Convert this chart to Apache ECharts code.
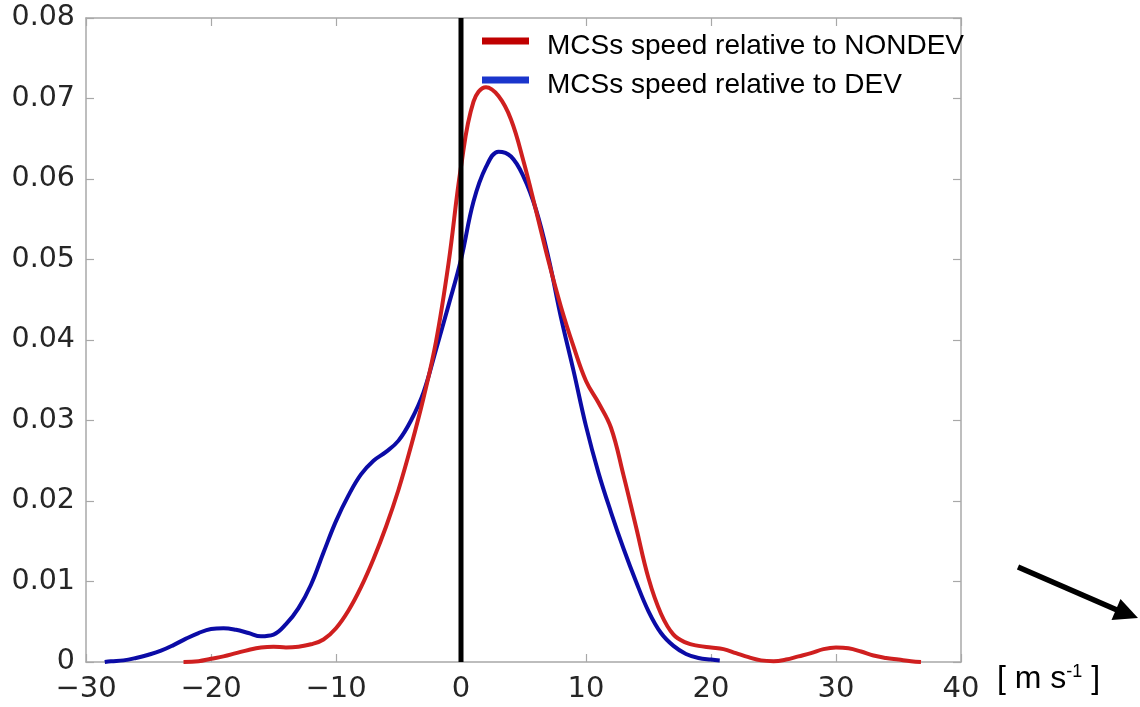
<!DOCTYPE html>
<html><head><meta charset="utf-8">
<script src="https://cdn.jsdelivr.net/npm/echarts@6/dist/echarts.min.js"></script>
<style>html,body{margin:0;padding:0;background:#fff}#c{width:1140px;height:707px}</style>
</head><body><div id="c"></div>
<script>
// ---- data ----
const seriesNames = ['MCSs speed relative to NONDEV', 'MCSs speed relative to DEV'];
const xMin = -30, xMax = 40, xStep = 10;
const yMin = 0, yMax = 0.08, yStep = 0.01;
const unitLabel = '[ m s{sup|-1} ]';

// NONDEV curve (red): speed [m/s] and density
const nondevX = [-22.2,-21,-20,-19,-18,-17,-16,-15,-14,-13,-12,-11,-10,-9,-8,-7,-6,-5,-4,-3,-2,-1,0,1,2,3,4,5,6,7,8,9,10,11,12,13,14,15,16,17,18,19,20,21,22,23,24,25,26,27,28,29,30,31,32,33,34,35,36,36.8];
const nondevY = [0,0.0001,0.0004,0.0007,0.0011,0.0015,0.0018,0.0019,0.0018,0.0019,0.0022,0.0028,0.0042,0.0064,0.0093,0.0128,0.0168,0.0214,0.0268,0.0328,0.0398,0.0495,0.0615,0.0696,0.0714,0.0703,0.0674,0.0622,0.0561,0.0498,0.0441,0.0392,0.0349,0.0322,0.0291,0.0232,0.0168,0.0104,0.006,0.0034,0.0024,0.002,0.0018,0.0016,0.0011,0.0006,0.0002,0.0001,0.0003,0.0007,0.0011,0.0016,0.0018,0.0017,0.0013,0.0008,0.0005,0.0003,0.0001,0];

// DEV curve (blue)
const devX = [-28.5,-28,-27,-26,-25,-24,-23,-22,-21,-20,-19,-18,-17,-16,-15,-14,-13,-12,-11,-10,-9,-8,-7,-6,-5,-4,-3,-2,-1,0,1,2,3,4,5,6,7,8,9,10,11,12,13,14,15,16,17,18,19,20,20.7];
const devY = [0,0.0001,0.0002,0.0005,0.0009,0.0014,0.0021,0.0029,0.0036,0.0041,0.0042,0.004,0.0036,0.0032,0.0034,0.0047,0.0067,0.0096,0.0136,0.0175,0.0207,0.0233,0.025,0.0261,0.0275,0.03,0.0335,0.0388,0.0443,0.05,0.0572,0.0615,0.0634,0.0628,0.0603,0.0562,0.0502,0.0428,0.0362,0.0293,0.0235,0.0186,0.0141,0.01,0.0063,0.0036,0.002,0.001,0.0005,0.0003,0.0002];

const zeroLineX = [0, 0];
const zeroLineY = [0, 0.08];

// ---- build ----
const zip = (a, b) => a.map((v, i) => [v, b[i]]);
const frameColor = '#a8a8a8';
const labelColor = '#262626';
const curveRed = '#cf1f1f', curveBlue = '#0b0ba6';
const legRed = '#c00000', legBlue = '#1a35cc';

function axisBase(extra) {
  return Object.assign({
    type: 'value', splitLine: { show: false },
    axisLine: { show: true, onZero: false, lineStyle: { color: frameColor, width: 1.5 } },
    axisTick: { show: true, inside: true, length: 8, lineStyle: { color: frameColor, width: 1.2 } }
  }, extra);
}
const xLabelFmt = v => (v < 0 ? '\u2212' + Math.abs(v) : String(v));
const yLabelFmt = v => (v === 0 ? '0' : v.toFixed(2));

const chart = echarts.init(document.getElementById('c'), null, { renderer: 'canvas' });
chart.setOption({
  animation: false,
  backgroundColor: '#fff',
  grid: { left: 86, right: 179, top: 18, bottom: 45 },
  xAxis: [
    axisBase({ position: 'bottom', min: xMin, max: xMax, interval: xStep,
      axisLabel: { formatter: xLabelFmt, fontFamily: 'DejaVu Sans', fontSize: 29, color: labelColor, margin: 13 } }),
    axisBase({ position: 'top', min: xMin, max: xMax, interval: xStep, axisLabel: { show: false } })
  ],
  yAxis: [
    axisBase({ position: 'left', min: yMin, max: yMax, interval: yStep,
      axisLabel: { formatter: yLabelFmt, fontFamily: 'DejaVu Sans', fontSize: 28.5, color: labelColor, margin: 11 } }),
    axisBase({ position: 'right', min: yMin, max: yMax, interval: yStep, axisLabel: { show: false } })
  ],
  legend: {
    orient: 'vertical', left: 477, top: 27, selectedMode: false,
    icon: 'rect', itemWidth: 47, itemHeight: 7, itemGap: 11,
    formatter: name => '{t|' + name + '}',
    textStyle: { fontFamily: 'Liberation Sans', fontSize: 28, color: '#000',
      rich: { t: { fontFamily: 'Liberation Sans', fontSize: 28, color: '#000', padding: [10, 0, 0, 13] } } },
    data: [
      { name: seriesNames[0], itemStyle: { color: legRed } },
      { name: seriesNames[1], itemStyle: { color: legBlue } }
    ]
  },
  series: [
    { name: seriesNames[0], type: 'line', data: zip(nondevX, nondevY), showSymbol: false, smooth: 0.4,
      lineStyle: { color: curveRed, width: 4 }, itemStyle: { color: curveRed }, z: 3 },
    { name: seriesNames[1], type: 'line', data: zip(devX, devY), showSymbol: false, smooth: 0.4,
      lineStyle: { color: curveBlue, width: 4 }, itemStyle: { color: curveBlue }, z: 2 },
    { name: 'zero', type: 'line', data: zip(zeroLineX, zeroLineY), showSymbol: false,
      lineStyle: { color: '#000', width: 5 }, z: 5, silent: true }
  ],
  graphic: [
    { type: 'text', left: 997, top: 663, z: 10,
      style: { text: unitLabel, fontFamily: 'Liberation Sans', fontSize: 32, fill: '#000',
        rich: { sup: { fontFamily: 'Liberation Sans', fontSize: 18, fill: '#000', verticalAlign: 'top', padding: [0, 0, 14, 0] } } } },
    { type: 'line', z: 10, shape: { x1: 1018, y1: 567, x2: 1117, y2: 610 },
      style: { stroke: '#000', lineWidth: 5.5 } },
    { type: 'polygon', z: 10, shape: { points: [[1138, 618], [1111.5, 620], [1120.5, 599]] },
      style: { fill: '#000' } }
  ]
});
</script>
</body></html>
